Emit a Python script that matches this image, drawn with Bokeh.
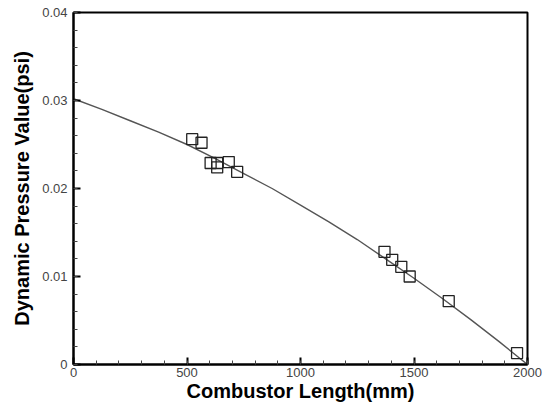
from bokeh.plotting import figure
from bokeh.models import Range1d, FixedTicker
from bokeh.embed import file_html
from bokeh.resources import INLINE

# measured data points (combustor length mm, dynamic pressure psi)
meas_x = [523, 564, 604, 633, 633, 684, 721, 1370, 1404, 1444, 1481, 1653, 1954]
meas_y = [0.0256, 0.0252, 0.0229, 0.0229, 0.0224, 0.0230, 0.0219,
          0.0128, 0.0119, 0.0111, 0.0100, 0.0072, 0.0013]

# fitted curve
curve_x = [0, 125, 250, 375, 500, 625, 750, 875, 1000, 1125, 1250, 1375,
           1500, 1625, 1750, 1875, 2000]
curve_y = [0.0302, 0.0290, 0.0277, 0.0264, 0.0250, 0.0234, 0.0217, 0.0200,
           0.0181, 0.0162, 0.0142, 0.0120, 0.0098, 0.0075, 0.0051, 0.0026, 0.0]

x_ticks = [0, 500, 1000, 1500, 2000]
y_ticks = [0, 0.01, 0.02, 0.03, 0.04]

p = figure(frame_width=454, frame_height=352, output_backend="svg",
           toolbar_location=None, x_range=Range1d(0, 2000), y_range=Range1d(0, 0.04),
           min_border_left=73, min_border_top=12, min_border_right=18, min_border_bottom=36)
p.background_fill_color = "white"
p.border_fill_color = "white"
p.outline_line_color = "black"
p.outline_line_width = 2
p.xgrid.visible = False
p.ygrid.visible = False

p.line(curve_x, curve_y, line_color="#555555", line_width=1.4)
p.scatter(meas_x, meas_y, marker="square", size=11, fill_color=None,
          line_color="#222222", line_width=1.3)

for ax in (p.xaxis[0], p.yaxis[0]):
    ax.axis_line_color = "black"
    ax.axis_line_width = 2
    ax.major_tick_in = 7
    ax.major_tick_out = 0
    ax.minor_tick_in = 4
    ax.minor_tick_out = 0
    ax.major_tick_line_color = "black"
    ax.major_tick_line_width = 2
    ax.minor_tick_line_color = "#444444"
    ax.major_label_text_font = "Liberation Sans"
    ax.major_label_text_font_size = "13px"
    ax.major_label_text_color = "#444444"
    ax.axis_label_text_font = "Liberation Sans"
    ax.axis_label_text_font_size = "20px"
    ax.axis_label_text_font_style = "bold"
    ax.axis_label_text_color = "black"

p.xaxis[0].ticker = FixedTicker(ticks=x_ticks, minor_ticks=[v for v in range(0, 2001, 100)])
p.yaxis[0].ticker = FixedTicker(ticks=y_ticks, minor_ticks=[i * 0.002 for i in range(21)])

p.xaxis.axis_label = "Combustor Length(mm)"
p.yaxis.axis_label = "Dynamic Pressure Value(psi)"
p.xaxis.major_label_standoff = 3
p.xaxis.axis_label_standoff = 0
p.yaxis.major_label_standoff = 6
p.yaxis.axis_label_standoff = 6
p.yaxis.major_label_overrides = {0: "0", 0.01: "0.01", 0.02: "0.02", 0.03: "0.03", 0.04: "0.04"}

open("out.html", "w").write(file_html(p, INLINE))
